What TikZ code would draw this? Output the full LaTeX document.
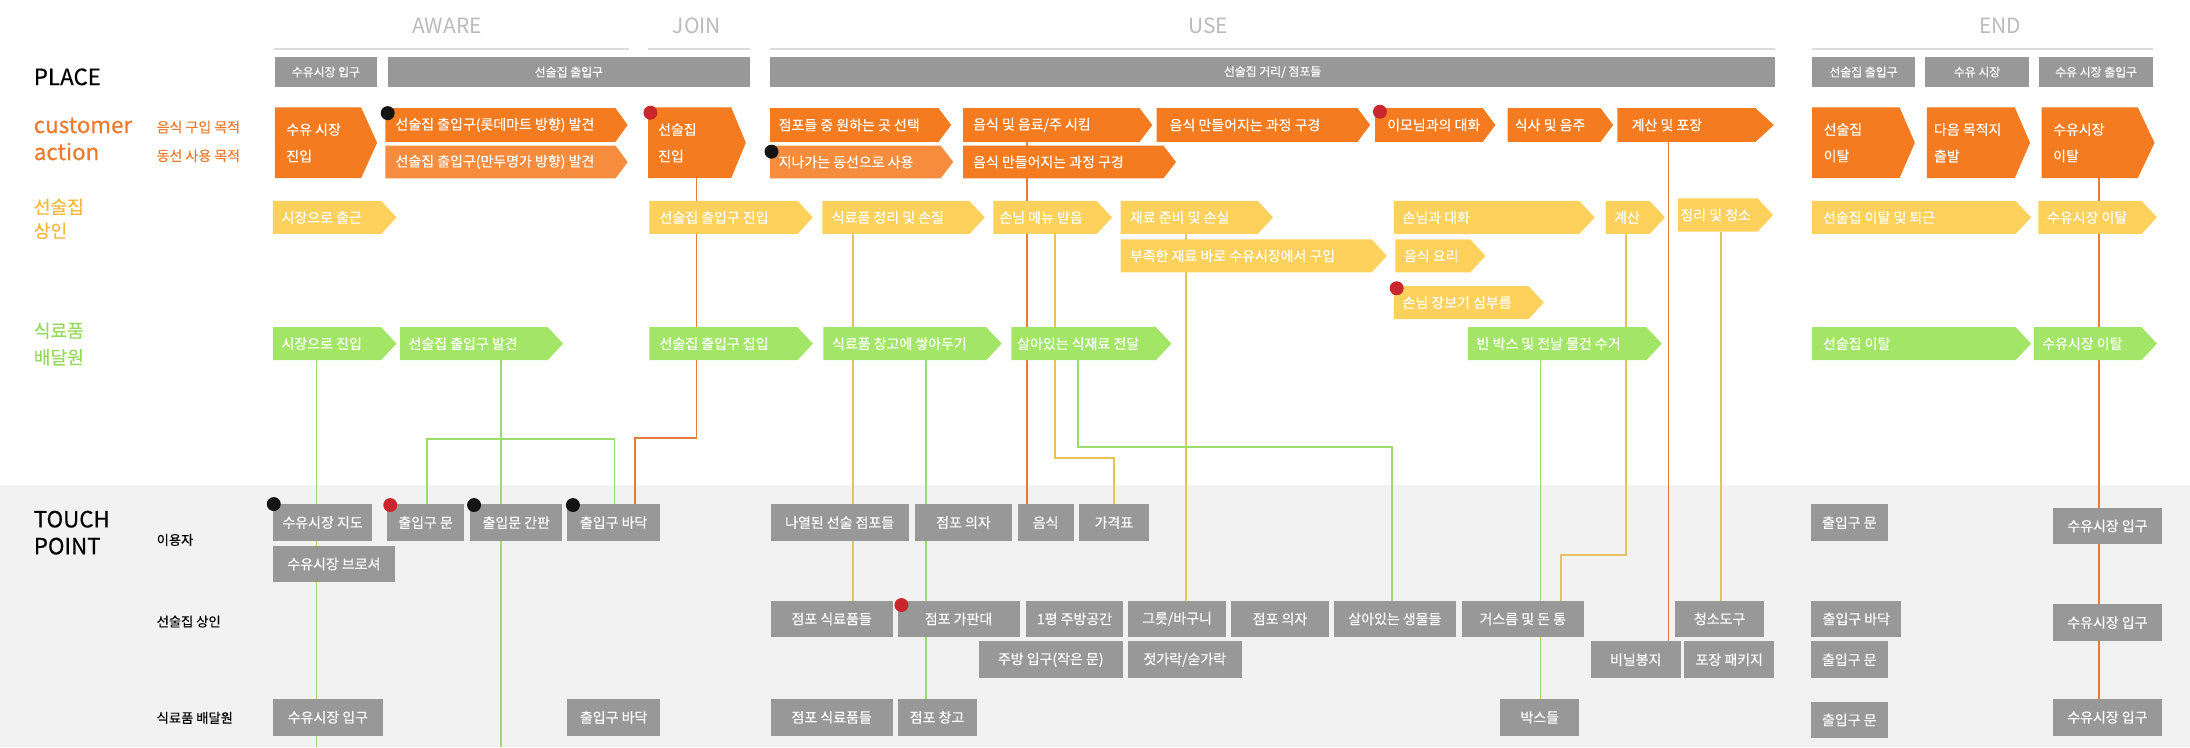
\documentclass[tikz,border=0pt]{standalone}
\usepackage{fontspec}
\setmainfont{Noto Sans CJK KR}[FakeBold=0.35]
\newfontfamily\hdfont{Noto Sans CJK KR}
\usetikzlibrary{fit}
\pgfdeclarelayer{l0}
\pgfdeclarelayer{l1}
\pgfdeclarelayer{l2}
\pgfsetlayers{l0,l2,l1,main}
\definecolor{cOr}{HTML}{F47B20}
\definecolor{cOrL}{HTML}{F68C3E}
\definecolor{cYe}{HTML}{FDD15B}
\definecolor{cGr}{HTML}{A3E667}
\definecolor{cTp}{HTML}{989898}
\definecolor{cHd}{HTML}{BBBBBB}
\definecolor{cHl}{HTML}{DDDDDD}
\definecolor{cLabO}{HTML}{EE7A2E}
\definecolor{cLabY}{HTML}{F5B73E}
\definecolor{cLabG}{HTML}{92D95C}
\definecolor{cLnO}{HTML}{E37D3A}
\definecolor{cLnY}{HTML}{E8C15E}
\definecolor{cLnG}{HTML}{9CDC6B}
\definecolor{cRed}{HTML}{C9262E}
\definecolor{cBg}{HTML}{F2F2F2}
\tikzset{
  hd/.style={text=cHd, font=\hdfont\fontsize{15}{18}\selectfont, inner sep=0pt},
  hline/.style={draw=cHl, line width=1.5pt},
  plbox/.style={fill=cTp, text=white, font=\fontsize{8.5}{10}\selectfont, inner sep=0pt, outer sep=0pt},
  tpbox/.style={fill=cTp, text=white, font=\fontsize{10}{12}\selectfont, inner sep=0pt, outer sep=0pt},
  atext/.style={text=white, font=\fontsize{10}{19}\selectfont, inner sep=0pt, align=left},
  fitbox/.style={inner sep=0pt, outer sep=0pt},
  fO/.style={fill=cOr}, fOL/.style={fill=cOrL}, fY/.style={fill=cYe}, fG/.style={fill=cGr},
  lnO/.style={draw=cLnO, line width=1.3pt},
  lnY/.style={draw=cLnY, line width=1.3pt},
  lnG/.style={draw=cLnG, line width=1.3pt},
  dotR/.style={circle, fill=cRed, minimum size=10pt, inner sep=0pt},
  dotK/.style={circle, fill=black!92, minimum size=10pt, inner sep=0pt},
  bigl/.style={font=\fontsize{16}{19}\selectfont, anchor=base west, inner sep=0pt},
  midl/.style={font=\fontsize{13}{16}\selectfont, anchor=west, inner sep=0pt},
  lab/.style={font=\fontsize{9.5}{12}\selectfont, anchor=west, inner sep=0pt},
}
% action box: name, x1, y1, x2, y2, tip, fill style, text pad, text
\newcommand{\abx}[9]{%
  \fill[#7] (#2,#3) -- ({#4-#6},#3) -- (#4,{(#3+#5)/2}) -- ({#4-#6},#5) -- (#2,#5) -- cycle;
  \coordinate (#1-a) at (#2,#3);
  \coordinate (#1-b) at ({#4-#6},#5);
  \node[fitbox, fit=(#1-a)(#1-b)] (#1) {};
  \node[atext, anchor=west] (#1-t) at ([xshift=#8pt]#1.west) {#9};
}
% touch point box: name, x1, y1, x2, y2, text
\newcommand{\tbx}[6]{%
  \node[tpbox, minimum width={(#4)-(#2)}, minimum height={(#5)-(#3)}] (#1) at ({(#2+#4)/2},{(#3+#5)/2}) {#6};
}
\newcommand{\pbx}[6]{%
  \node[plbox, minimum width={(#4)-(#2)}, minimum height={(#5)-(#3)}] (#1) at ({(#2+#4)/2},{(#3+#5)/2}) {#6};
}
\begin{document}
\begin{tikzpicture}[x=1pt,y=-1pt]
\useasboundingbox (0,0) rectangle (1568,535);
\begin{pgfonlayer}{l0}
\fill[white] (0,0) rectangle (1568,347);
\fill[cBg] (0,347) rectangle (1568,535);
\end{pgfonlayer}

% header
\node[hd] (hAware) at (320,18.6) {AWARE};
\node[hd] (hJoin) at (499,18.6) {JOIN};
\node[hd] (hUse) at (865,18.6) {USE};
\node[hd] (hEnd) at (1432,18.6) {END};
\draw[hline] (196,35.3) -- (450,35.3);
\draw[hline] (464,35.3) -- (537,35.3);
\draw[hline] (551,35.3) -- (1271,35.3);
\draw[hline] (1297,35.3) -- (1541.5,35.3);

% left labels
\node[bigl] (lPlace) at (24,60.9) {PLACE};
\node[bigl, text=cLabO] (lCust) at (24,95.3) {customer};
\node[bigl, text=cLabO] (lAct) at (24,114.6) {action};
\node[lab, text=cLabO, font=\fontsize{10}{12}\selectfont] (lFood) at (112,91) {음식 구입 목적};
\node[lab, text=cLabO, font=\fontsize{10}{12}\selectfont] (lMove) at (112,111.5) {동선 사용 목적};
\node[midl, text=cLabY] (lMer1) at (24,148) {선술집};
\node[midl, text=cLabY] (lMer2) at (24,165.2) {상인};
\node[midl, text=cLabG] (lDel1) at (24,236.7) {식료품};
\node[midl, text=cLabG] (lDel2) at (24,255.8) {배달원};
\node[bigl] (lTouch) at (24,377.6) {TOUCH};
\node[bigl] (lPoint) at (24,396.9) {POINT};
\node[lab] (lU) at (112,386.6) {이용자};
\node[lab] (lM) at (112,445) {선술집 상인};
\node[lab] (lD) at (112,514) {식료품 배달원};

% place boxes
\pbx{P1}{196.8}{40.6}{270}{62.5}{수유시장 입구}
\pbx{P2}{277.6}{40.6}{537}{62.5}{선술집 출입구}
\pbx{P3}{551.3}{40.6}{1271}{62.5}{선술집 거리/ 점포들}
\pbx{P4}{1297.5}{40.6}{1371}{62.5}{선술집 출입구}
\pbx{P5}{1378.4}{40.6}{1452.7}{62.5}{수유 시장}
\pbx{P6}{1460}{40.6}{1541.5}{62.5}{수유 시장 출입구}

\begin{pgfonlayer}{l1}
% customer actions
\abx{O1}{196.8}{76.8}{270}{127.6}{11.5}{fO}{8}{수유 시장\\진입}
\abx{O2}{276}{77.5}{449.4}{101.5}{8.7}{fO}{7}{선술집 출입구(롯데마트 방향) 발견}
\abx{O3}{276}{104.3}{449.4}{127.7}{8.7}{fOL}{7}{선술집 출입구(만두명가 방향) 발견}
\abx{O4}{464}{76.8}{534}{127.6}{10.5}{fO}{7}{선술집\\진입}
\abx{O5}{551.3}{77.5}{681}{101.5}{9}{fO}{6}{점포들 중 원하는 곳 선택}
\abx{O6}{551.3}{104.3}{682.5}{127.7}{9}{fOL}{6}{지나가는 동선으로 사용}
\abx{O7}{689.5}{77.5}{825}{101.5}{9}{fO}{7}{음식 및 음료/주 시킴}
\abx{O8}{689.5}{104.3}{842}{127.7}{9}{fO}{7}{음식 만들어지는 과정 구경}
\abx{O9}{828.2}{77.5}{981}{101.5}{9}{fO}{9}{음식 만들어지는 과정 구경}
\abx{O10}{984.5}{77.5}{1070.7}{101.5}{9}{fO}{8.5}{이모님과의 대화}
\abx{O11}{1079.4}{77.5}{1155}{101.5}{9}{fO}{5}{식사 및 음주}
\abx{O12}{1158}{77.5}{1270}{101.5}{13}{fO}{10}{계산 및 포장}
\abx{O13}{1297.5}{76.8}{1371}{127.6}{11}{fO}{8}{선술집\\이탈}
\abx{O14}{1379.5}{76.8}{1453.5}{127.6}{11}{fO}{5}{다음 목적지\\출발}
\abx{O15}{1461.8}{76.8}{1542.6}{127.6}{12}{fO}{8}{수유시장\\이탈}
% merchant
\abx{Y1}{195.4}{143.9}{283.9}{167.5}{11}{fY}{6}{시장으로 출근}
\abx{Y2}{465}{143.9}{582}{167.5}{11}{fY}{7}{선술집 출입구 진입}
\abx{Y3}{588.8}{143.9}{705.1}{167.5}{11}{fY}{6.5}{식료품 정리 및 손질}
\abx{Y4}{711.3}{143.9}{796.2}{167.5}{11}{fY}{4}{손님 메뉴 받음}
\abx{Y5}{802.3}{143.9}{911.5}{167.5}{11}{fY}{6.5}{재료 준비 및 손실}
\abx{Y6}{802.3}{171.4}{993}{195}{11}{fY}{6.5}{부족한 재료 바로 수유시장에서 구입}
\abx{Y7}{998}{143.9}{1141.8}{167.5}{11}{fY}{6}{손님과 대화}
\abx{Y8}{999}{171.4}{1063.6}{195}{11}{fY}{6}{음식 요리}
\abx{Y9}{998}{204.8}{1105.4}{228.4}{11}{fY}{6}{손님 장보기 심부름}
\abx{Y10}{1149.5}{143.9}{1192.1}{167.5}{11}{fY}{6}{계산}
\abx{Y11}{1201.4}{142}{1269.4}{165.9}{11}{fY}{1.5}{정리 및 청소}
\abx{Y12}{1297.5}{143.9}{1454.2}{167.5}{11}{fY}{7.5}{선술집 이탈 및 퇴근}
\abx{Y13}{1459.4}{143.9}{1544.3}{167.5}{11}{fY}{6}{수유시장 이탈}
% delivery
\abx{G1}{195.4}{234.3}{283.9}{257.8}{11}{fG}{6}{시장으로 진입}
\abx{G2}{286.3}{234.3}{403.2}{257.8}{11}{fG}{6}{선술집 출입구 발견}
\abx{G3}{465}{234.3}{582}{257.8}{11}{fG}{7}{선술집 출입구 집입}
\abx{G4}{589.5}{234.3}{717.2}{257.8}{11}{fG}{6}{식료품 창고에 쌓아두기}
\abx{G5}{724.1}{234.3}{838.7}{257.8}{11}{fG}{4}{살아있는 식재료 전달}
\abx{G6}{1051}{234.3}{1189.8}{257.8}{11}{fG}{6}{빈 박스 및 전날 물건 수거}
\abx{G7}{1297.5}{234.3}{1454.2}{257.8}{11}{fG}{7.5}{선술집 이탈}
\abx{G8}{1456}{234.3}{1544.3}{257.8}{11}{fG}{6}{수유시장 이탈}
\end{pgfonlayer}

% touch points
\tbx{T1}{195.4}{361}{266.5}{387.3}{수유시장 지도}
\tbx{T2}{277}{361}{332.4}{387.3}{출입구 문}
\tbx{T3}{336.6}{361}{402.6}{387.3}{출입문 간판}
\tbx{T4}{406}{361}{472.7}{387.3}{출입구 바닥}
\tbx{T5}{195.4}{390.7}{282.8}{417}{수유시장 브로셔}
\tbx{T6}{551.7}{361}{650.6}{387.3}{나열된 선술 점포들}
\tbx{T7}{654.8}{361}{724.9}{387.3}{점포 의자}
\tbx{T8}{728.7}{361}{768.6}{387.3}{음식}
\tbx{T9}{772.7}{361}{822.4}{387.3}{가격표}
\tbx{T10}{1296.3}{361}{1351.8}{387.3}{출입구 문}
\tbx{T11}{1469.8}{363.5}{1547.9}{389.7}{수유시장 입구}
\tbx{T12}{551.7}{430}{639.2}{456.3}{점포 식료품들}
\tbx{T13}{642.6}{430}{730}{456.3}{점포 가판대}
\tbx{T14}{734.6}{430}{804}{456.3}{1평 주방공간}
\tbx{T15}{807.5}{430}{877.9}{456.3}{그릇/바구니}
\tbx{T16}{881.4}{430}{951.5}{456.3}{점포 의자}
\tbx{T17}{955}{430}{1042.4}{456.3}{살아있는 생물들}
\tbx{T18}{1046.4}{430}{1134.2}{456.3}{거스름 및 돈 통}
\tbx{T19}{1199.1}{430}{1263.3}{456.3}{청소도구}
\tbx{T20}{1296.9}{430}{1361.2}{456.3}{출입구 바닥}
\tbx{T21}{1469.8}{432.7}{1547.9}{458.9}{수유시장 입구}
\tbx{T22}{700.6}{459}{804}{485.7}{주방 입구(작은 문)}
\tbx{T23}{807.5}{459}{889}{485.7}{젓가락/숟가락}
\tbx{T24}{1139}{459}{1203.3}{485.7}{비닐봉지}
\tbx{T25}{1206}{459}{1270.2}{485.7}{포장 패키지}
\tbx{T26}{1296.3}{459}{1351.8}{485.7}{출입구 문}
\tbx{T27}{195.4}{500.5}{274.2}{526.7}{수유시장 입구}
\tbx{T28}{406}{500.5}{472.7}{526.7}{출입구 바닥}
\tbx{T29}{551.7}{500.5}{639.2}{526.7}{점포 식료품들}
\tbx{T30}{642.6}{500.5}{699.2}{526.7}{점포 창고}
\tbx{T31}{1074.2}{500.5}{1130.7}{526.7}{박스들}
\tbx{T32}{1296.3}{502.4}{1351.8}{528.6}{출입구 문}
\tbx{T33}{1469.8}{500.5}{1547.9}{526.7}{수유시장 입구}

% connectors
\coordinate (k1) at (226.6,535);
\coordinate (k2) at (358.5,535);
\coordinate (k3a) at (306,314.3);
\coordinate (k3b) at (440,314.3);
\coordinate (k4a) at (498.7,313.8);
\coordinate (k4b) at (454.6,313.8);
\coordinate (k5) at (735.3,0);
\coordinate (k6) at (1194.6,0);
\coordinate (k7) at (1502.8,0);
\coordinate (k8) at (610.7,0);
\coordinate (k9a) at (755.4,328.2);
\coordinate (k9b) at (797.7,328.2);
\coordinate (k10) at (849.2,0);
\coordinate (k11a) at (1164.4,397.4);
\coordinate (k11b) at (1117.6,397.4);
\coordinate (k12) at (1232,0);
\coordinate (k13) at (662.7,0);
\coordinate (k14a) at (772,319.8);
\coordinate (k14b) at (996.6,319.8);
\coordinate (k15) at (1103,0);
\begin{pgfonlayer}{l2}
\draw[lnG] (G1.south -| k1) -- (k1);
\draw[lnG] (G2.south -| k2) -- (k2);
\draw[lnG] (T2.north -| k3a) -- (k3a) -- (k3b) -- (T4.north -| k3b);
\draw[lnO] (O4.south -| k4a) -- (k4a) -- (k4b) -- (T4.north -| k4b);
\draw[lnO] (O7.south -| k5) -- (T8.north -| k5);
\draw[lnO] (O12.south -| k6) -- (T24.north -| k6);
\draw[lnO] (O15.south -| k7) -- (T33.north -| k7);
\draw[lnY] (Y3.south -| k8) -- (T12.north -| k8);
\draw[lnY] (Y4.south -| k9a) -- (k9a) -- (k9b) -- (T9.north -| k9b);
\draw[lnY] (Y5.south -| k10) -- (T15.north -| k10);
\draw[lnY] (Y10.south -| k11a) -- (k11a) -- (k11b) -- (T18.north -| k11b);
\draw[lnY] (Y11.south -| k12) -- (T19.north -| k12);
\draw[lnG] (G4.south -| k13) -- (T30.north -| k13);
\draw[lnG] (G5.south -| k14a) -- (k14a) -- (k14b) -- (T17.north -| k14b);
\draw[lnG] (G6.south -| k15) -- (T31.north -| k15);
\end{pgfonlayer}

% markers
\node[dotK] (d1) at (277.6,81) {};
\node[dotR] (d2) at (465.7,80.7) {};
\node[dotK] (d3) at (552.4,108.6) {};
\node[dotR] (d4) at (988,80) {};
\node[dotR] (d5) at (1000,206.4) {};
\node[dotK] (d6) at (196,360.9) {};
\node[dotR] (d7) at (279.4,361.6) {};
\node[dotK] (d8) at (339.4,361.6) {};
\node[dotK] (d9) at (410.2,361.6) {};
\node[dotR] (d10) at (645.4,433.2) {};
\end{tikzpicture}
\end{document}
